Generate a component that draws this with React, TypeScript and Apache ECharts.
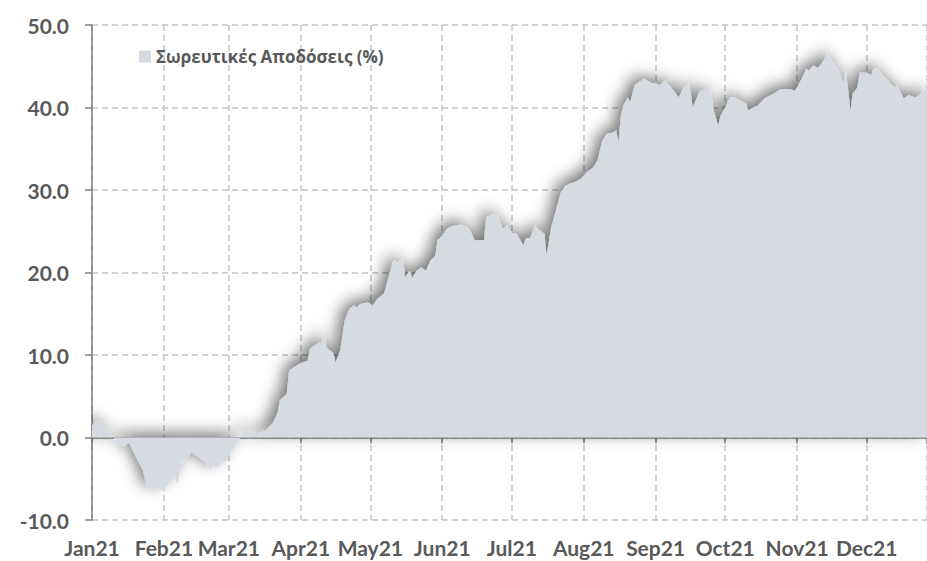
import React, { useEffect, useRef } from "react";
import * as echarts from "echarts";

// Day of year 2021 (0 = 1 Jan) for each reading
const dayOfYear = [
  0, 3, 6, 9, 11, 14, 16, 19, 22, 23, 24, 26, 28, 31, 33, 35, 37, 38, 39, 43,
  46, 49, 51, 52, 54, 58, 60, 63, 65, 66, 69, 72, 75, 78, 80, 81, 84, 85, 88, 90,
  93, 94, 98, 99, 100, 101, 104, 105, 107, 109, 111, 113, 114, 116, 119, 121, 123, 126, 129, 130,
  132, 134, 135, 137, 138, 140, 142, 144, 146, 148, 149, 151, 153, 155, 159, 161, 163, 165, 169, 170,
  173, 175, 177, 179, 181, 183, 186, 187, 189, 191, 192, 195, 196, 198, 200, 202, 204, 206, 208, 211,
  213, 216, 218, 220, 222, 225, 226, 227, 228, 229, 231, 232, 234, 235, 238, 241, 243, 245, 247, 250,
  253, 255, 257, 258, 259, 262, 265, 267, 268, 270, 271, 273, 275, 277, 280, 282, 283, 285, 287, 290,
  294, 297, 301, 303, 306, 308, 309, 311, 313, 315, 317, 319, 322, 324, 325, 327, 328, 330, 331, 334,
  336, 337, 339, 341, 344, 346, 347, 350, 352, 355, 357, 360,
];

// Cumulative return (%)
const cumulativeReturn = [
  1.5, 2.1, 1.1, 0.0, -0.7, -1.0, -0.6, -2.4, -4.0, -5.2, -6.4, -6.0, -6.2, -6.4, -5.6, -4.4, -5.6, -4.0, -3.0, -1.8,
  -2.4, -3.0, -4.0, -3.4, -3.6, -2.8, -1.8, -0.4, 0.5, 0.85, 0.6, 0.5, 0.85, 1.8, 2.9, 4.5, 5.3, 8.1, 8.7, 9.0,
  9.3, 10.8, 11.5, 11.4, 13.0, 10.9, 10.2, 9.1, 10.5, 14.2, 15.6, 16.0, 15.8, 16.2, 16.4, 16.0, 16.8, 17.5, 20.6, 21.5,
  21.2, 21.8, 19.4, 20.2, 19.3, 20.2, 20.6, 20.2, 21.5, 22.0, 23.9, 24.5, 25.3, 25.6, 25.8, 25.7, 25.1, 23.9, 23.9, 26.7,
  27.1, 26.9, 25.3, 25.7, 24.8, 24.7, 23.3, 24.1, 24.2, 25.7, 25.3, 24.7, 22.1, 25.5, 27.5, 29.6, 30.5, 30.8, 30.9, 31.4,
  32.1, 32.7, 33.6, 36.0, 36.8, 37.0, 37.2, 35.8, 39.0, 40.2, 41.2, 40.6, 42.7, 42.9, 43.5, 43.0, 42.9, 42.7, 43.3, 42.3,
  41.2, 42.4, 43.0, 42.0, 40.0, 42.0, 42.2, 41.8, 39.6, 37.8, 39.0, 40.0, 41.2, 41.2, 40.8, 40.5, 39.6, 40.0, 40.2, 41.1,
  41.7, 42.2, 42.2, 42.0, 43.5, 44.7, 44.5, 45.1, 44.8, 45.5, 46.5, 45.7, 44.5, 42.9, 44.5, 39.6, 41.7, 42.4, 44.2, 44.2,
  43.9, 44.8, 44.7, 43.9, 43.0, 42.4, 42.7, 41.1, 41.5, 41.2, 41.5, 42.4,
];

const monthLabels = ["Jan", "Feb", "Mar", "Apr", "May", "Jun", "Jul", "Aug", "Sep", "Oct", "Nov", "Dec"];
const yearSuffix = "21";
const seriesName = "Σωρευτικές Αποδόσεις (%)";
const yMin = -10;
const yMax = 50;
const yStep = 10;
const lastVisibleDay = 360;

const toTime = (d: number) => Date.UTC(2021, 0, 1 + d);

export default function App() {
  const ref = useRef<HTMLDivElement>(null);

  useEffect(() => {
    if (!ref.current) return;
    const chart = echarts.init(ref.current, undefined, { renderer: "svg" });
    const data = dayOfYear.map((d, i) => [toTime(d), cumulativeReturn[i]]);
    const font = "Lato, 'Open Sans', sans-serif";
    const textColor = "#595959";
    const axisColor = "#7f7f7f";
    const gridColor = "#c3c3c3";
    const xMin = toTime(0);
    const xMax = toTime(lastVisibleDay);

    chart.setOption({
      animation: false,
      useUTC: true,
      backgroundColor: "#ffffff",
      grid: { left: 92, right: 0, top: 25, bottom: 41, containLabel: false },
      legend: {
        left: 134,
        top: 43,
        icon: "rect",
        itemWidth: 12,
        itemHeight: 12,
        textStyle: { color: textColor, fontFamily: "'Open Sans', sans-serif", fontWeight: "bold", fontSize: 17 },
        data: [seriesName],
      },
      xAxis: [
        {
          type: "time",
          min: xMin,
          max: xMax,
          minInterval: 28 * 86400000,
          maxInterval: 31 * 86400000,
          splitNumber: 12,
          axisLine: { show: false, onZero: false },
          axisTick: { show: false },
          axisLabel: {
            margin: 17,
            color: textColor,
            fontFamily: font,
            fontWeight: "bold",
            fontSize: 21,
            showMaxLabel: false,
            formatter: (v: number) => monthLabels[new Date(v).getUTCMonth()] + yearSuffix,
          },
          splitLine: { show: true, lineStyle: { color: gridColor, type: [6, 4], width: 1.5 } },
        },
        {
          type: "time",
          min: xMin,
          max: xMax,
          minInterval: 28 * 86400000,
          maxInterval: 31 * 86400000,
          splitNumber: 12,
          position: "bottom",
          axisLine: { show: true, onZero: true, lineStyle: { color: axisColor, width: 1.5 } },
          axisTick: { show: true, length: 6, lineStyle: { color: axisColor, width: 1.5 } },
          axisLabel: { show: false },
          splitLine: { show: false },
        },
      ],
      yAxis: {
        type: "value",
        min: yMin,
        max: yMax,
        interval: yStep,
        axisLine: { show: true, lineStyle: { color: axisColor, width: 1.5 } },
        axisTick: { show: true, length: 7, lineStyle: { color: axisColor, width: 1.5 } },
        axisLabel: {
          margin: 23,
          color: textColor,
          fontFamily: font,
          fontWeight: "bold",
          fontSize: 21,
          formatter: (v: number) => v.toFixed(1),
        },
        splitLine: { show: true, lineStyle: { color: gridColor, type: [6, 4], width: 1.5 } },
      },
      series: [
        {
          name: seriesName,
          type: "line",
          xAxisIndex: 0,
          data,
          showSymbol: false,
          symbol: "none",
          itemStyle: { color: "#d6dbe2" },
          lineStyle: { width: 0, color: "#d6dbe2" },
          areaStyle: {
            color: "#d6dbe2",
            opacity: 1,
            shadowColor: "rgba(0,0,0,0.55)",
            shadowBlur: 16,
            shadowOffsetX: -5,
            shadowOffsetY: -4,
          },
          z: 1,
        },
      ],
    });
    return () => chart.dispose();
  }, []);

  return (
    <div
      ref={ref}
      style={{ position: "fixed", left: 0, top: 0, width: 927, height: 561, background: "#fff" }}
    />
  );
}
